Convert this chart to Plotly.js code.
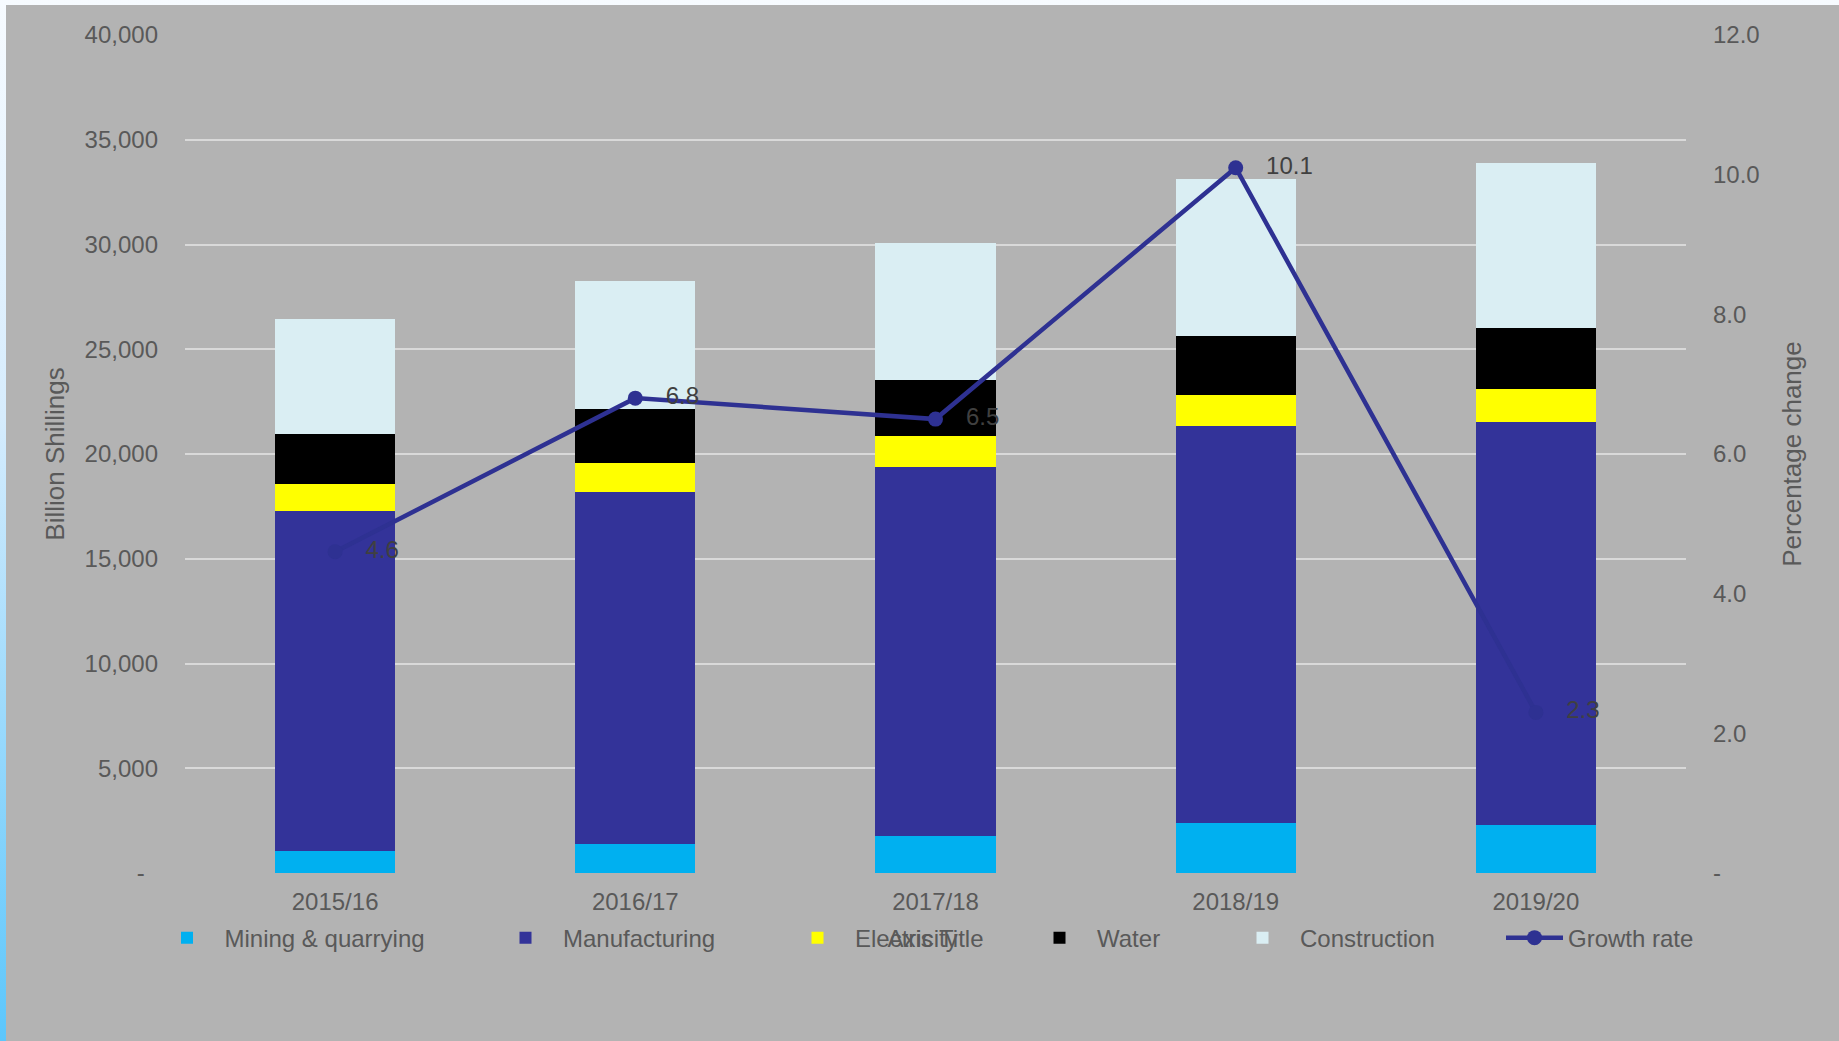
<!DOCTYPE html>
<html>
<head>
<meta charset="utf-8">
<script src="https://cdn.plot.ly/plotly-3.0.1.min.js"></script>
<style>
  html, body { margin: 0; padding: 0; }
  body {
    width: 1839px; height: 1041px; overflow: hidden;
    background: linear-gradient(to bottom, #f7fbff 0%, #d6ecfd 40%, #5cc6fb 100%);
    position: relative;
  }
  #chart { position: absolute; left: 6px; top: 5px; width: 1833px; height: 1036px; }
</style>
</head>
<body>
<div id="chart"></div>
<script>
// ---- Data ----
const years = ["2015/16", "2016/17", "2017/18", "2018/19", "2019/20"];
const mining        = [1050, 1380, 1790, 2370, 2310];
const manufacturing = [16230, 16820, 17590, 18980, 19240];
const electricity   = [1270, 1380, 1460, 1480, 1530];
const water         = [2420, 2570, 2680, 2810, 2920];
const construction  = [5470, 6090, 6570, 7470, 7900];
const growthRate    = [4.6, 6.8, 6.5, 10.1, 2.3];

const leftTickVals  = [0, 5000, 10000, 15000, 20000, 25000, 30000, 35000, 40000];
const leftTickText  = ["-\u00a0\u00a0", "5,000", "10,000", "15,000", "20,000", "25,000", "30,000", "35,000", "40,000"];
const rightTickVals = [0, 2, 4, 6, 8, 10, 12];
const rightTickText = ["-", "2.0", "4.0", "6.0", "8.0", "10.0", "12.0"];

const FONT = "'Liberation Sans', Arial, sans-serif";
const GREY_TEXT = "#595959";

function barTrace(name, vals, color, legendId) {
  return {
    type: "bar", name: name, x: years, y: vals,
    marker: { color: color, line: { width: 0 } },
    legend: legendId, hoverinfo: "x+y+name"
  };
}

const traces = [
  barTrace("Mining & quarrying", mining, "#00B0F0", "legend"),
  barTrace("Manufacturing", manufacturing, "#333399", "legend2"),
  barTrace("Electricity", electricity, "#FFFF00", "legend3"),
  barTrace("Water", water, "#000000", "legend4"),
  barTrace("Construction", construction, "#DAEEF3", "legend5"),
  {
    type: "scatter", mode: "lines+markers+text", name: "Growth rate",
    x: years, y: growthRate, yaxis: "y2",
    line: { color: "#2E3192", width: 4.5 },
    marker: { color: "#2E3192", size: 15 },
    texttemplate: "\u00a0\u00a0\u00a0%{y:.1f}",
    textposition: "middle right",
    textfont: { family: FONT, size: 24, color: "#404040" },
    legend: "legend6", cliponaxis: false
  }
];

function leg(x, iw) {
  return {
    orientation: "h", x: x, xanchor: "left", y: -0.0776, yanchor: "middle",
    bgcolor: "rgba(0,0,0,0)", borderwidth: 0, itemwidth: iw,
    font: { family: FONT, size: 24, color: GREY_TEXT }
  };
}

const layout = {
  width: 1833, height: 1036,
  margin: { l: 179, r: 153, t: 30, b: 168, pad: 0 },
  paper_bgcolor: "#B3B3B3", plot_bgcolor: "#B3B3B3",
  font: { family: FONT, size: 24, color: GREY_TEXT },
  barmode: "stack", bargap: 0.6,
  showlegend: true,
  legend:  leg(-0.02365, 65),
  legend2: leg(0.20187, 65),
  legend3: leg(0.39640, 65),
  legend4: leg(0.55763, 65),
  legend5: leg(0.69287, 65),
  legend6: leg(0.87675, 57),
  xaxis: {
    type: "category", showgrid: false, zeroline: false, showline: false,
    ticks: "", ticklabelstandoff: 12,
    tickfont: { family: FONT, size: 24, color: GREY_TEXT },
    title: { text: "Axis Title", standoff: 16, font: { family: FONT, size: 24, color: GREY_TEXT } }
  },
  yaxis: {
    range: [0, 40000], tickvals: leftTickVals, ticktext: leftTickText,
    showgrid: true, gridcolor: "#D9D9D9", gridwidth: 1.5, zeroline: false,
    showline: false, ticks: "", ticklabelstandoff: 26,
    tickfont: { family: FONT, size: 24, color: GREY_TEXT },
    title: { text: "Billion Shillings", standoff: 12, font: { family: FONT, size: 26, color: GREY_TEXT } }
  },
  yaxis2: {
    overlaying: "y", side: "right", range: [0, 12],
    tickvals: rightTickVals, ticktext: rightTickText,
    showgrid: false, zeroline: false, showline: false, ticks: "", ticklabelstandoff: 26,
    tickfont: { family: FONT, size: 24, color: GREY_TEXT },
    title: { text: "Percentage change", standoff: 24, font: { family: FONT, size: 26, color: GREY_TEXT } }
  }
};

Plotly.newPlot("chart", traces, layout, { displayModeBar: false, responsive: false });
</script>
</body>
</html>
